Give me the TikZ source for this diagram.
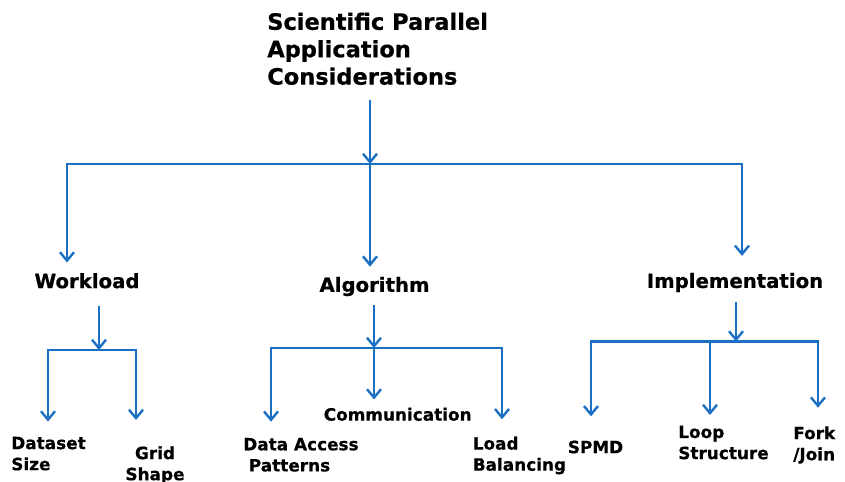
\documentclass[tikz,border=0pt]{standalone}
\usepackage{fontspec}
\setmainfont{DejaVu Sans}[BoldFeatures={FakeBold=0.6}]
\usepackage{xcolor}
\usepackage{tikz}
\usetikzlibrary{arrows.meta, positioning}

\definecolor{linkblue}{RGB}{28,112,196}

\begin{document}
\begin{tikzpicture}[
          x=0.025cm, y=-0.025cm,
          every node/.style={inner sep=0pt},
          heading/.style={font=\fontsize{16}{19.5}\selectfont\bfseries, align=left},
          branch/.style={font=\fontsize{14}{17}\selectfont\bfseries},
          leaf/.style={font=\fontsize{12}{15}\selectfont\bfseries, align=left},
          bus/.style={draw=linkblue, line width=1.7pt, line cap=rect},
          arr/.style={draw=linkblue, line width=1.7pt, -{Straight Barb[length=6pt, width=10pt]}}
        ]
          \clip (0,0) rectangle (845,481);

          % labels
          \node[heading, anchor=west] (root) at (267,48.8) {Scientific Parallel\\Application\\Considerations};

          \node[branch] (wl) at (87,280.8) {Workload};
          \node[branch] (alg) at (374.5,286.5) {Algorithm};
          \node[branch] (impl) at (735,282.5) {Implementation};

          \node[leaf, anchor=west] (ds) at (11,453.6) {Dataset\\Size};
          \node[leaf, align=center] (grid) at (155,465) {Grid\\Shape};
          \node[leaf, anchor=west] (dap) at (243,454.8) {Data Access\\\hspace*{4pt}Patterns};
          \node[leaf] (comm) at (397.7,414.3) {Communication};
          \node[leaf, anchor=west] (lb) at (472.5,455.5) {Load\\Balancing};
          \node[leaf] (spmd) at (595.5,447) {SPMD};
          \node[leaf, anchor=west] (loop) at (678,442.5) {Loop\\Structure};
          \node[leaf, anchor=west] (fj) at (793,445) {Fork\\/Join};

          % junctions
          \coordinate (j0) at (370,164);
          \coordinate (j0l) at (67,164);
          \coordinate (j0r) at (742,164);
          \coordinate (j1) at (99,350);
          \coordinate (j1l) at (48,350);
          \coordinate (j1r) at (136,350);
          \coordinate (j2) at (374,348);
          \coordinate (j2l) at (271,348);
          \coordinate (j2r) at (502,348);
          \coordinate (j3) at (736,341.5);
          \coordinate (j3l) at (591,341.5);
          \coordinate (j3m) at (710,341.5);
          \coordinate (j3r) at (818,341.5);

          % top level
          \draw[arr, shorten <=0.37cm] (root.south -| j0) -- (j0);
          \draw[bus] (j0l) -- (j0r);
          \draw[arr, shorten >=0.26cm] (j0l) -- (j0l |- wl.north);
          \draw[arr, shorten >=0.25cm] (j0) -- (j0 |- alg.north);
          \draw[arr, shorten >=0.42cm] (j0r) -- (j0r |- impl.north);

          % workload
          \draw[arr, shorten <=0.42cm] (wl.south -| j1) -- (j1);
          \draw[bus] (j1l) -- (j1r);
          \draw[arr, shorten >=0.375cm] (j1l) -- (j1l |- ds.north);
          \draw[arr, shorten >=0.65cm] (j1r) -- (j1r |- grid.north);

          % algorithm
          \draw[arr, shorten <=0.22cm] (alg.south -| j2) -- (j2);
          \draw[bus] (j2l) -- (j2r);
          \draw[arr, shorten >=0.4cm] (j2l) -- (j2l |- dap.north);
          \draw[arr, shorten >=0.2cm] (j2) -- (j2 |- comm.north);
          \draw[arr, shorten >=0.43cm] (j2r) -- (j2r |- lb.north);

          % implementation
          \draw[arr, shorten <=0.24cm] (impl.south -| j3) -- (j3);
          \draw[bus] (j3l) -- (j3r);
          \draw[arr, shorten >=0.6cm] (j3l) -- (j3l |- spmd.north);
          \draw[arr, shorten >=0.26cm] (j3m) -- (j3m |- loop.north);
          \draw[arr, shorten >=0.46cm] (j3r) -- (j3r |- fj.north);
        \end{tikzpicture}
\end{document}
